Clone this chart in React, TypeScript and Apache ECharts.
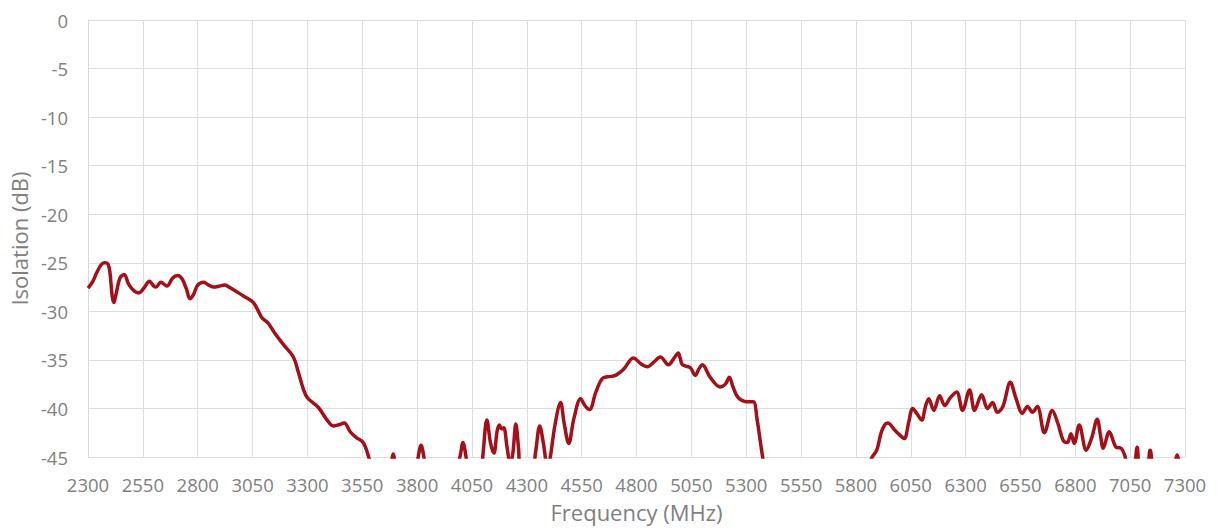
import React, { useEffect, useRef } from "react";
import * as echarts from "echarts";

const freqMHz: number[] = [
  2300, 2320, 2340, 2360, 2375, 2390, 2400, 2410, 2418, 2428, 2445, 2465, 2485, 2510, 2532, 2555, 2580, 2600, 2610, 2632,
  2660, 2685, 2709, 2730, 2750, 2764, 2780, 2800, 2827, 2850, 2873, 2900, 2923, 2950, 2986, 3014, 3054, 3091, 3120, 3150,
  3190, 3236, 3259, 3280, 3300, 3350, 3390, 3418, 3440, 3468, 3495, 3523, 3550, 3565, 3582, 3610, 3660, 3682, 3691, 3700,
  3730, 3790, 3805, 3818, 3831, 3850, 3950, 3995, 4009, 4023, 4045, 4085, 4100, 4118, 4135, 4150, 4165, 4175, 4185, 4195,
  4210, 4225, 4237, 4250, 4262, 4275, 4320, 4340, 4359, 4375, 4395, 4405, 4430, 4454, 4470, 4491, 4515, 4545, 4565, 4586,
  4615, 4645, 4680, 4705, 4740, 4786, 4820, 4850, 4880, 4909, 4945, 4975, 4990, 5000, 5009, 5045, 5068, 5085, 5100, 5136,
  5182, 5205, 5223, 5240, 5264, 5305, 5332, 5350, 5365, 5377, 5400, 5600, 5850, 5872, 5895, 5915, 5931, 5945, 5980, 6013,
  6022, 6040, 6059, 6080, 6100, 6117, 6132, 6155, 6182, 6205, 6230, 6259, 6286, 6318, 6341, 6373, 6400, 6423, 6445, 6470,
  6504, 6530, 6559, 6582, 6605, 6627, 6659, 6695, 6720, 6745, 6764, 6780, 6795, 6818, 6850, 6875, 6900, 6915, 6927, 6955,
  6986, 7009, 7025, 7040, 7065, 7082, 7095, 7125, 7141, 7155, 7200, 7250, 7264, 7278, 7300,
];

const isolationDb: number[] = [
  -27.6, -27.0, -26.0, -25.2, -25.0, -25.1, -26.0, -28.4, -29.1, -28.2, -26.6, -26.2, -27.2, -27.9, -28.1, -27.6, -26.9, -27.4, -27.5, -27.0,
  -27.4, -26.6, -26.3, -26.7, -27.8, -28.7, -28.3, -27.3, -27.0, -27.3, -27.5, -27.4, -27.3, -27.6, -28.1, -28.5, -29.1, -30.6, -31.2, -32.2,
  -33.4, -34.7, -36.3, -37.9, -38.9, -39.9, -41.2, -41.8, -41.7, -41.5, -42.4, -43.0, -43.4, -44.0, -45.2, -47.0, -47.0, -45.6, -44.7, -45.6,
  -47.5, -47.0, -45.0, -43.8, -45.0, -47.5, -48.0, -45.0, -43.5, -45.0, -48.0, -48.0, -44.8, -41.2, -43.6, -44.6, -42.3, -41.7, -42.1, -42.0,
  -44.0, -45.8, -44.5, -41.6, -44.0, -47.0, -47.0, -44.5, -41.8, -43.5, -46.0, -45.3, -41.5, -39.4, -41.5, -43.6, -41.0, -39.0, -39.7, -40.1,
  -38.3, -36.9, -36.7, -36.6, -36.0, -34.8, -35.4, -35.7, -35.2, -34.7, -35.5, -34.7, -34.3, -34.9, -35.5, -35.8, -36.6, -35.9, -35.5, -36.8,
  -37.8, -37.5, -36.8, -37.8, -38.9, -39.3, -39.3, -41.2, -43.5, -45.3, -48.0, -48.0, -47.0, -45.1, -44.3, -42.5, -41.7, -41.5, -42.3, -43.0,
  -43.1, -41.5, -40.0, -40.6, -41.2, -39.8, -39.0, -40.2, -38.7, -39.7, -38.9, -38.3, -40.2, -38.1, -40.2, -38.6, -40.0, -39.4, -40.4, -39.8,
  -37.3, -39.0, -40.5, -39.8, -40.4, -39.8, -42.5, -40.2, -41.5, -43.3, -43.5, -42.6, -43.6, -41.7, -44.3, -43.0, -41.1, -42.8, -44.1, -42.4,
  -44.0, -44.1, -44.8, -46.0, -46.0, -44.0, -46.0, -46.0, -44.3, -46.0, -48.0, -46.0, -44.8, -46.0, -47.0,
];

const xMin = 2300;
const xMax = 7300;
const xStep = 250;
const yMin = -45;
const yMax = 0;
const yStep = 5;

export default function App() {
  const ref = useRef<HTMLDivElement>(null);
  useEffect(() => {
    if (!ref.current) return;
    const chart = echarts.init(ref.current, undefined, { renderer: "svg" });
    const labelStyle = { color: "#808080", fontSize: 18.5, fontFamily: "Open Sans" };
    chart.setOption({
      animation: false,
      backgroundColor: "#ffffff",
      grid: { left: 86, right: 33, top: 20, bottom: 73, containLabel: false },
      xAxis: {
        type: "value",
        min: xMin,
        max: xMax,
        interval: xStep,
        name: "Frequency (MHz)",
        nameLocation: "middle",
        nameGap: 44,
        nameTextStyle: { color: "#808080", fontSize: 22, fontFamily: "Open Sans" },
        axisLine: { show: true, lineStyle: { color: "#d9d9d9", width: 1 } },
        axisTick: { show: false },
        axisLabel: {
          ...labelStyle,
          margin: 18,
          showMaxLabel: true,
          showMinLabel: true,
          formatter: (v: number) => String(v),
        },
        splitLine: { show: true, lineStyle: { color: "#dedede", width: 1 } },
      },
      yAxis: {
        type: "value",
        min: yMin,
        max: yMax,
        interval: yStep,
        name: "Isolation (dB)",
        nameLocation: "middle",
        nameGap: 55,
        nameTextStyle: { color: "#808080", fontSize: 22, fontFamily: "Open Sans" },
        axisLine: { show: true, lineStyle: { color: "#d9d9d9", width: 1 } },
        axisTick: { show: false },
        axisLabel: { ...labelStyle, margin: 20, formatter: (v: number) => String(v) },
        splitLine: { show: true, lineStyle: { color: "#dedede", width: 1 } },
      },
      series: [
        {
          type: "line",
          data: freqMHz.map((f, i) => [f, isolationDb[i]]),
          smooth: 0.35,
          showSymbol: false,
          clip: true,
          lineStyle: { color: "#A50F18", width: 3.5 },
        },
      ],
    });
    return () => chart.dispose();
  }, []);
  return (
    <div
      ref={ref}
      style={{ position: "fixed", left: 0, top: 0, width: 1218, height: 530, background: "#fff" }}
    />
  );
}
